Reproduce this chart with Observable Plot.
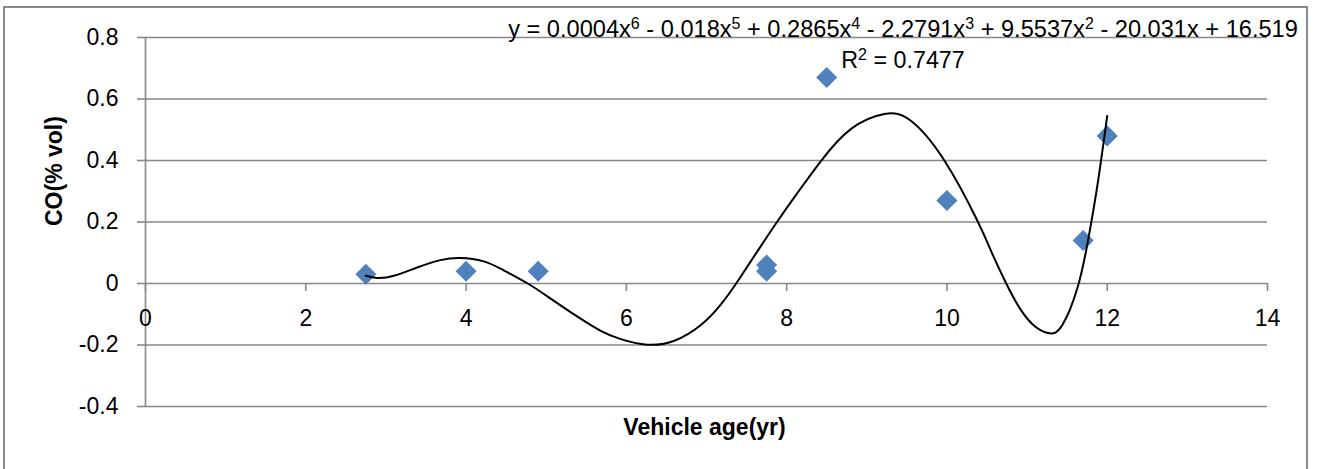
<!DOCTYPE html>
<html>
<head>
<meta charset="utf-8">
<script src="https://cdn.jsdelivr.net/npm/d3@7"></script>
<script src="https://cdn.jsdelivr.net/npm/@observablehq/plot@0.6"></script>
<style>
  html, body { margin: 0; padding: 0; background: #fff; }
  #wrap { position: relative; width: 1321px; height: 469px; overflow: hidden; }
  #border { position: absolute; left: 3px; top: 6px; width: 1305px; height: 520px; border: 2px solid #8a8a8a; box-sizing: border-box; }
  #chart { position: absolute; left: 0; top: 0; }
</style>
</head>
<body>
<div id="wrap"><div id="border"></div><div id="chart"></div></div>
<script>
// Vehicle age (years) and measured CO (% vol)
const vehicleAge = [2.75, 4, 4.9, 7.75, 7.75, 8.5, 10, 11.7, 12];
const coPercent  = [0.03, 0.04, 0.04, 0.06, 0.04, 0.67, 0.27, 0.14, 0.48];

// 6th-order polynomial trendline, sampled along its path
const trendAge = [2.75, 2.89, 3.10, 3.39, 3.68, 3.93, 4.22, 4.47, 4.77, 5.06, 5.39, 5.68, 5.93, 6.26, 6.60, 6.93, 7.18, 7.37, 7.55, 7.89, 8.15, 8.43, 8.80, 9.22, 9.55, 9.97, 10.38, 10.55, 10.74, 10.92, 11.10, 11.28, 11.44, 11.63, 11.76, 11.88, 12.0];
const trendCO  = [0.025, 0.018, 0.025, 0.052, 0.076, 0.083, 0.072, 0.043, 0.0, -0.05, -0.108, -0.154, -0.181, -0.199, -0.186, -0.135, -0.068, 0.0, 0.071, 0.204, 0.30, 0.399, 0.502, 0.551, 0.529, 0.399, 0.204, 0.106, 0.0, -0.085, -0.14, -0.162, -0.135, -0.013, 0.139, 0.323, 0.545];

// Axis ticks and labels
const xTicks = [0, 2, 4, 6, 8, 10, 12, 14];
const yTicks = [-0.4, -0.2, 0, 0.2, 0.4, 0.6, 0.8];
const yTickLabels = ["-0.4", "-0.2", "0", "0.2", "0.4", "0.6", "0.8"];

const xTitle = "Vehicle age(yr)";
const yTitle = "CO(% vol)";
const equationText = "y = 0.0004x\u2076 - 0.018x\u2075 + 0.2865x\u2074 - 2.2791x\u00B3 + 9.5537x\u00B2 - 20.031x + 16.519";
const r2Text = "R\u00B2 = 0.7477";

const points = vehicleAge.map((x, i) => ({x, y: coPercent[i]}));
const trend = trendAge.map((x, i) => ({x, y: trendCO[i]}));

const gridColor = "#878787";
const font = "'Liberation Sans', Arial, sans-serif";

const plot = Plot.plot({
  width: 1321,
  height: 469,
  marginLeft: 145,
  marginRight: 54,
  marginTop: 37,
  marginBottom: 63,
  x: {domain: [0, 14]},
  y: {domain: [-0.4, 0.8]},
  style: {fontFamily: font, fontSize: "23px", color: "#000", background: "transparent", overflow: "visible"},
  marks: [
    Plot.gridY(yTicks, {stroke: gridColor, strokeOpacity: 1, strokeWidth: 1.6}),
    Plot.ruleX([0], {stroke: gridColor, strokeWidth: 1.6}),
    Plot.axisY(yTicks, {
      anchor: "left", tickSize: 8, tickPadding: 19, label: null,
      stroke: gridColor, strokeWidth: 1.6, fill: "#000",
      tickFormat: d => yTickLabels[yTicks.indexOf(d)]
    }),
    Plot.axisX(xTicks, {
      anchor: "bottom", tickSize: 8, tickPadding: 18, label: null,
      stroke: gridColor, strokeWidth: 1.6, fill: "#000",
      tickFormat: d => String(d)
    }),
    Plot.dot(points, {x: "x", y: "y", symbol: "diamond2", r: 9.5, fill: "#4F81BD", stroke: null}),
    Plot.line(trend, {x: "x", y: "y", curve: "natural", stroke: "#000", strokeWidth: 2}),
    Plot.text([equationText], {frameAnchor: "top", dx: 196.5, dy: -8.5, lineAnchor: "middle", fontSize: 23.6, fill: "#000"}),
    Plot.text([r2Text], {frameAnchor: "top", dx: 196.5, dy: 23.5, lineAnchor: "middle", fontSize: 23.3, fill: "#000"}),
    Plot.text([xTitle], {frameAnchor: "bottom", dx: -2, dy: 21, lineAnchor: "middle", fontWeight: "bold", fill: "#000"}),
    Plot.text([yTitle], {frameAnchor: "left", rotate: -90, dx: -91, dy: 4, lineAnchor: "middle", fontWeight: "bold", fill: "#000"})
  ]
});

// The horizontal axis crosses at CO = 0: move its ticks and labels up to that line
const yScale = plot.scale("y");
const shift = yScale.apply(0) - yScale.apply(-0.4);
d3.select(plot).selectAll('g[aria-label="x-axis tick"], g[aria-label="x-axis tick label"]').each(function () {
  const g = d3.select(this);
  const prev = g.attr("transform") || "";
  g.attr("transform", `translate(0,${shift}) ${prev}`);
});

// Typeset exponent characters of the trendline label as raised, smaller digits
const superMap = {"\u2070": "0", "\u00B9": "1", "\u00B2": "2", "\u00B3": "3", "\u2074": "4", "\u2075": "5", "\u2076": "6", "\u2077": "7", "\u2078": "8", "\u2079": "9"};
d3.select(plot).selectAll("text").each(function () {
  const content = this.textContent;
  if (content !== equationText && content !== r2Text) return;
  const el = d3.select(this);
  while (this.firstChild) this.removeChild(this.firstChild);
  let buf = "";
  let raised = false;
  const flush = () => { if (buf) { el.append("tspan").text(buf); buf = ""; } };
  for (const ch of content) {
    if (superMap[ch]) {
      flush();
      el.append("tspan").attr("dy", "-8").attr("font-size", "16px").text(superMap[ch]);
      raised = true;
    } else if (raised) {
      el.append("tspan").attr("dy", "8").text(ch);
      raised = false;
    } else {
      buf += ch;
    }
  }
  flush();
});

document.getElementById("chart").appendChild(plot);
</script>
</body>
</html>
